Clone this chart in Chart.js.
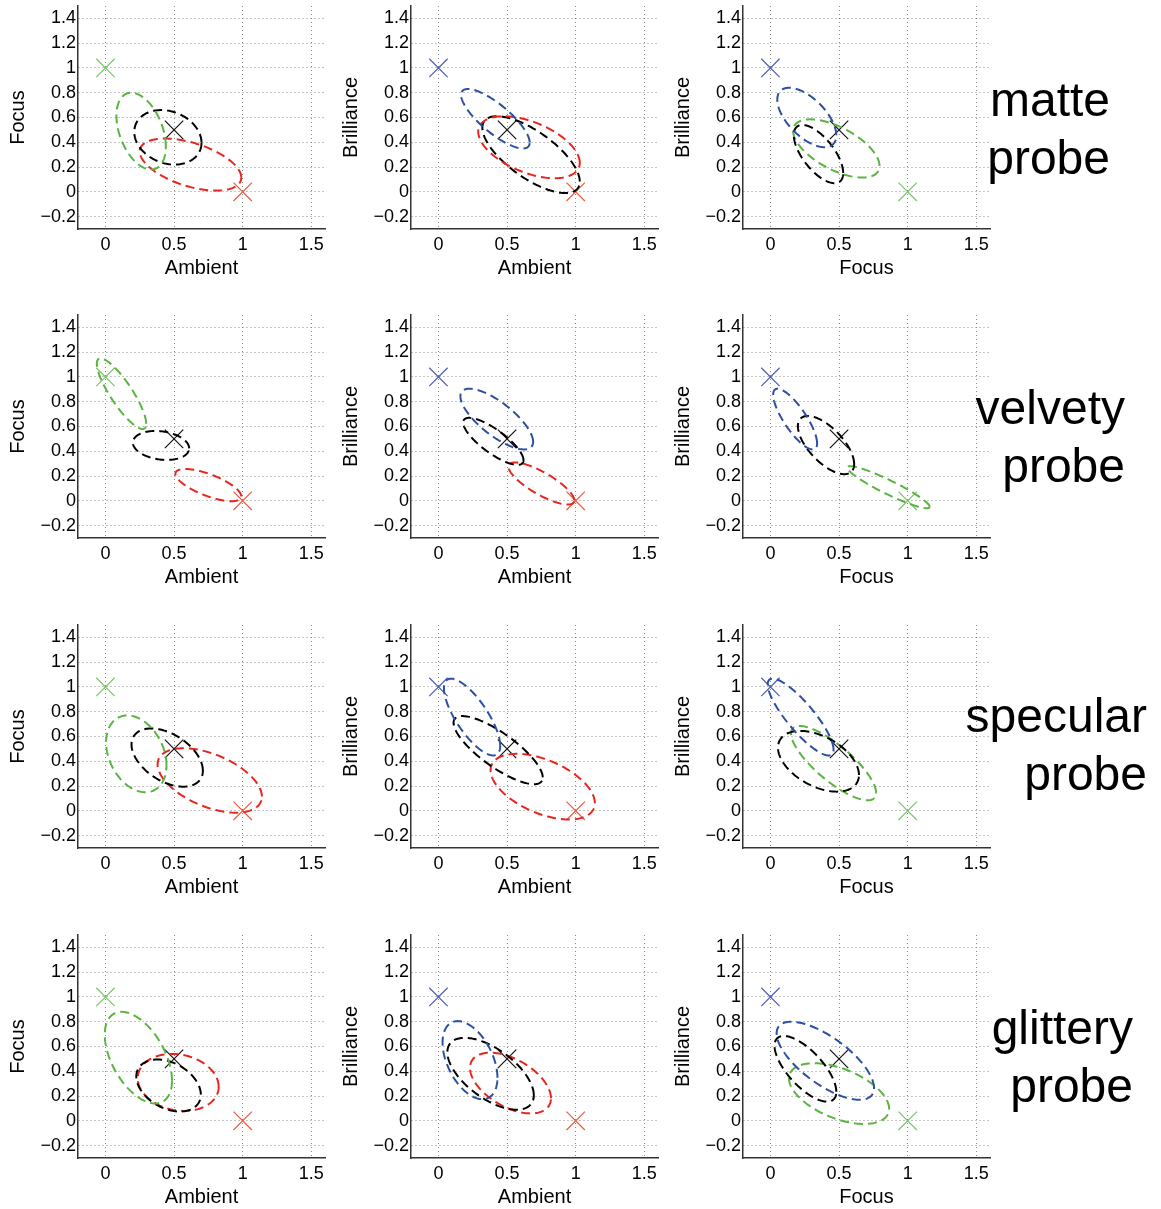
<!DOCTYPE html>
<html>
<head>
<meta charset="utf-8">
<script src="https://cdn.jsdelivr.net/npm/chart.js@4.4.1/dist/chart.umd.min.js"></script>
<style>
  body { margin: 0; background: #fff; width: 1161px; height: 1209px; overflow: hidden; position: relative;
         font-family: "Liberation Sans", Arial, sans-serif; }
  canvas { position: absolute; }
  .probe { position: absolute; text-align: right; font-size: 48px; line-height: 58px; color: #000; }
</style>
</head>
<body>
<script>
// ---- data ----
const probes = ["matte", "velvety", "specular", "glittery"];
const xTitles = ["Ambient", "Ambient", "Focus"];
const yTitles = ["Focus", "Brilliance", "Brilliance"];
const xTicks = [0, 0.5, 1, 1.5];
const yTicks = [-0.2, 0, 0.2, 0.4, 0.6, 0.8, 1, 1.2, 1.4];

// reference crosses: pure cue at (0,1), pure cue at (1,0), the mix at (0.5,0.5)
const crossX = [0, 1, 0.5];
const crossY = [1, 0, 0.5];
const crossSeries = [
  ["focus", "ambient", "mixed"],
  ["brilliance", "ambient", "mixed"],
  ["brilliance", "focus", "mixed"]
];

// ellipses: [series, centre x, centre y, spread x, spread y, correlation], one list per column
const matteEllipses = [
  [["focus", 0.26, 0.49, 0.18, 0.31, -0.4], ["mixed", 0.455, 0.44, 0.245, 0.22, -0.2], ["ambient", 0.62, 0.22, 0.37, 0.21, -0.5]],
  [["brilliance", 0.415, 0.59, 0.25, 0.24, -0.8], ["ambient", 0.66, 0.36, 0.37, 0.25, -0.5], ["mixed", 0.675, 0.30, 0.355, 0.31, -0.7]],
  [["brilliance", 0.265, 0.60, 0.215, 0.24, -0.6], ["mixed", 0.35, 0.305, 0.18, 0.235, -0.65], ["focus", 0.48, 0.35, 0.315, 0.235, -0.6]]
];
const velvetyEllipses = [
  [["focus", 0.117, 0.865, 0.18, 0.285, -0.85], ["mixed", 0.405, 0.447, 0.205, 0.117, -0.2], ["ambient", 0.75, 0.127, 0.24, 0.13, -0.7]],
  [["brilliance", 0.425, 0.66, 0.265, 0.245, -0.75], ["mixed", 0.40, 0.48, 0.22, 0.19, -0.8], ["ambient", 0.75, 0.14, 0.24, 0.17, -0.8]],
  [["brilliance", 0.18, 0.66, 0.16, 0.245, -0.8], ["mixed", 0.405, 0.45, 0.205, 0.235, -0.65], ["focus", 0.86, 0.11, 0.30, 0.17, -0.93]]
];
const specularEllipses = [
  [["focus", 0.225, 0.46, 0.22, 0.31, -0.3], ["mixed", 0.45, 0.43, 0.26, 0.235, -0.45], ["ambient", 0.76, 0.245, 0.38, 0.26, -0.5]],
  [["brilliance", 0.245, 0.757, 0.205, 0.31, -0.75], ["mixed", 0.435, 0.49, 0.325, 0.275, -0.8], ["ambient", 0.76, 0.195, 0.38, 0.265, -0.5]],
  [["brilliance", 0.22, 0.757, 0.24, 0.31, -0.85], ["mixed", 0.35, 0.40, 0.295, 0.245, -0.45], ["focus", 0.46, 0.385, 0.31, 0.30, -0.8]]
];
const glitteryEllipses = [
  [["focus", 0.24, 0.51, 0.245, 0.37, -0.5], ["mixed", 0.46, 0.285, 0.235, 0.21, -0.35], ["ambient", 0.53, 0.31, 0.295, 0.23, -0.15]],
  [["brilliance", 0.23, 0.49, 0.20, 0.315, -0.45], ["mixed", 0.38, 0.38, 0.315, 0.29, -0.6], ["ambient", 0.525, 0.305, 0.295, 0.245, -0.5]],
  [["brilliance", 0.40, 0.485, 0.355, 0.315, -0.7], ["mixed", 0.255, 0.42, 0.225, 0.265, -0.7], ["focus", 0.50, 0.22, 0.365, 0.245, -0.5]]
];
const ellipsesByProbe = [matteEllipses, velvetyEllipses, specularEllipses, glitteryEllipses];

// ---- styles / layout ----
const lineColours = { ambient: "#e8261e", focus: "#5ab440", brilliance: "#2c4fa5", mixed: "#000000" };
const crossColours = { ambient: "#f05a40", focus: "#7cc66c", brilliance: "#4b5db8", mixed: "#111111" };
const colLeft = [0, 333, 665];
const rowTop = [0, 309, 619, 929];
const probeRight = [1110, 1125, 1147, 1133];
const probeTop = [71, 379, 687, 999];

function outline(e) {
  const [, cx, cy, sx, sy, r] = e;
  const k = Math.sqrt(1 - r * r);
  const pts = [];
  for (let i = 0; i <= 160; i++) {
    const t = i / 160 * 2 * Math.PI;
    pts.push({ x: cx + sx * Math.cos(t), y: cy + sy * (r * Math.cos(t) + k * Math.sin(t)) });
  }
  return pts;
}

function fmt(v) {
  return String(+v.toFixed(1)).replace("-", "\u2212");
}

function makePanel(row, col) {
  const canvas = document.createElement("canvas");
  canvas.width = 335;
  canvas.height = 280;
  canvas.style.left = colLeft[col] + "px";
  canvas.style.top = rowTop[row] + "px";
  document.body.appendChild(canvas);

  const datasets = ellipsesByProbe[row][col].map(e => ({
    type: "line",
    data: outline(e),
    borderColor: lineColours[e[0]],
    borderWidth: 2,
    borderDash: [9, 5],
    pointRadius: 0,
    fill: false,
    tension: 0
  }));
  datasets.push(...crossSeries[col].map((s, i) => ({
    type: "scatter",
    data: [{ x: crossX[i], y: crossY[i] }],
    pointStyle: "crossRot",
    pointRadius: 13,
    borderWidth: 1.2,
    borderColor: crossColours[s],
    backgroundColor: crossColours[s]
  })));

  const tickFont = { family: "Liberation Sans", size: 18 };
  const titleFont = { family: "Liberation Sans", size: 20 };
  const gridOpts = { color: "#8a8a8a", lineWidth: 1, drawTicks: false };

  new Chart(canvas, {
    type: "scatter",
    data: { datasets },
    options: {
      responsive: false,
      animation: false,
      layout: { autoPadding: false, padding: { left: 6, top: 6, right: 10, bottom: 0 } },
      plugins: { legend: { display: false }, tooltip: { enabled: false } },
      scales: {
        x: {
          type: "linear", min: -0.2, max: 1.6,
          afterBuildTicks: s => { s.ticks = xTicks.map(v => ({ value: v })); },
          afterFit: s => { s.height = 51; s.paddingLeft = 0; s.paddingRight = 0; },
          ticks: { callback: v => fmt(v), font: tickFont, color: "#000", padding: 5, maxRotation: 0 },
          grid: gridOpts,
          border: { display: true, color: "#333", width: 1.5, dash: [1, 3] },
          title: { display: true, text: xTitles[col], font: titleFont, color: "#000", padding: 0 }
        },
        y: {
          type: "linear", min: -0.3, max: 1.5,
          afterBuildTicks: s => { s.ticks = yTicks.map(v => ({ value: v })); },
          afterFit: s => { s.width = 72; s.paddingTop = 0; s.paddingBottom = 0; },
          ticks: { callback: v => fmt(v), font: tickFont, color: "#000", padding: 2 },
          grid: gridOpts,
          border: { display: true, color: "#333", width: 1.5, dash: [1, 3] },
          title: { display: true, text: yTitles[col], font: titleFont, color: "#000", padding: 0 }
        }
      }
    }
  });
}

for (let r = 0; r < probes.length; r++) {
  for (let c = 0; c < 3; c++) makePanel(r, c);
}

probes.forEach((p, r) => {
  const d = document.createElement("div");
  d.className = "probe";
  d.style.right = (1161 - probeRight[r]) + "px";
  d.style.top = probeTop[r] + "px";
  d.innerHTML = p + "<br>probe";
  document.body.appendChild(d);
});
</script>
</body>
</html>
